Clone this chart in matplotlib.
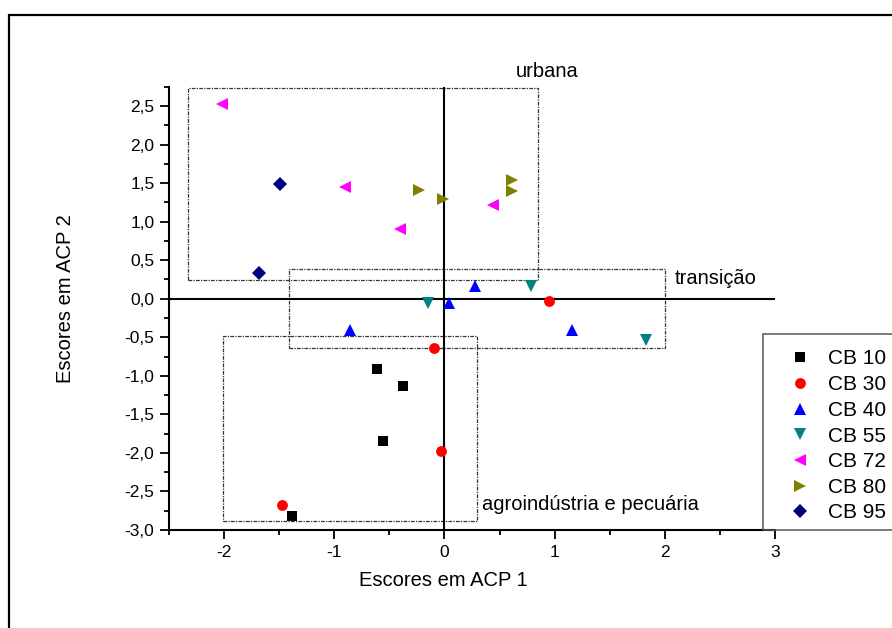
import matplotlib
matplotlib.use("Agg")
import matplotlib.pyplot as plt
from matplotlib.patches import Rectangle
from matplotlib.ticker import MultipleLocator, FuncFormatter

plt.rcParams['font.family'] = ['Liberation Sans', 'DejaVu Sans']

# scores per sample group (ACP 1, ACP 2)
cb10_x = [-0.615, -0.38, -0.56, -1.385]
cb10_y = [-0.91, -1.13, -1.84, -2.815]
cb30_x = [0.947, -0.093, -0.03, -1.475]
cb30_y = [-0.03, -0.64, -1.97, -2.68]
cb40_x = [-0.857, 0.04, 0.28, 1.156]
cb40_y = [-0.40, -0.05, 0.16, -0.41]
cb55_x = [-0.148, 0.787, 1.825]
cb55_y = [-0.056, 0.16, -0.54]
cb72_x = [-2.02, -0.905, -0.40, 0.44]
cb72_y = [2.52, 1.445, 0.905, 1.22]
cb80_x = [-0.233, -0.012, 0.61, 0.61]
cb80_y = [1.41, 1.295, 1.545, 1.40]
cb95_x = [-1.49, -1.686]
cb95_y = [1.49, 0.334]

labels = ['CB 10', 'CB 30', 'CB 40', 'CB 55', 'CB 72', 'CB 80', 'CB 95']
colors = ['#000000', '#ff0000', '#0000ff', '#008080', '#ff00ff', '#808000', '#000080']
markers = ['s', 'o', '^', 'v', '<', '>', 'D']
sizes = [7.2, 7.8, 8.8, 8.8, 8.8, 8.8, 7.0]
xs = [cb10_x, cb30_x, cb40_x, cb55_x, cb72_x, cb80_x, cb95_x]
ys = [cb10_y, cb30_y, cb40_y, cb55_y, cb72_y, cb80_y, cb95_y]

# grouping boxes: (x0, y0, x1, y1) and label
groups = [
    ((-2.325, 0.24, 0.848, 2.73), 'urbana', (0.65, 2.95)),
    ((-1.41, -0.64, 2.0, 0.386), 'transição', (2.09, 0.26)),
    ((-2.01, -2.88, 0.296, -0.48), 'agroindústria e pecuária', (0.344, -2.675)),
]

W, H = 892, 628
fig = plt.figure(figsize=(W / 100, H / 100), dpi=100)
ax = fig.add_axes([169 / W, 1 - 530 / H, (775 - 169) / W, (530 - 86.7) / H])

ax.set_xlim(-2.5, 3)
ax.set_ylim(-3, 2.75)

# axis cross at origin
ax.axhline(0, color='black', lw=1.5, zorder=2)
ax.axvline(0, color='black', lw=1.5, zorder=2)

for (x0, y0, x1, y1), txt, (tx, ty) in groups:
    ax.add_patch(Rectangle((x0, y0), x1 - x0, y1 - y0, fill=False,
                           edgecolor='#333333', lw=0.9, linestyle=(0, (3, 1, 1, 1)),
                           zorder=1))
    ax.text(tx, ty, txt, fontsize=14.5, ha='left', va='center', clip_on=False)

handles = []
for x, y, lab, c, m, s in zip(xs, ys, labels, colors, markers, sizes):
    h, = ax.plot(x, y, linestyle='none', marker=m, color=c, markersize=s,
                 markeredgewidth=0, label=lab, zorder=3)
    handles.append(h)

for side in ['top', 'right']:
    ax.spines[side].set_visible(False)
for side in ['left', 'bottom']:
    ax.spines[side].set_linewidth(1.5)

ax.xaxis.set_major_locator(MultipleLocator(1))
ax.xaxis.set_minor_locator(MultipleLocator(0.5))
ax.yaxis.set_major_locator(MultipleLocator(0.5))
ax.yaxis.set_minor_locator(MultipleLocator(0.25))
ax.xaxis.set_major_formatter(FuncFormatter(lambda v, p: f'{v:.0f}'))
ax.yaxis.set_major_formatter(FuncFormatter(lambda v, p: f'{v:.1f}'.replace('.', ',')))
ax.tick_params(which='major', direction='out', length=6.5, width=1.3, labelsize=12.5, pad=4)
ax.tick_params(which='minor', direction='out', length=3.6, width=1.3)

ax.set_xlabel('Escores em ACP 1', fontsize=14.5)
ax.set_ylabel('Escores em ACP 2', fontsize=14.5)
ax.xaxis.set_label_coords(0.453, -0.092)
ax.yaxis.set_label_coords(-0.155, 0.523)

# legend box runs off the right edge
fig.add_artist(Rectangle((763 / W, 1 - 530 / H), 200 / W, (530 - 334) / H,
                         transform=fig.transFigure, fill=False,
                         edgecolor='#555555', lw=1.1))
fig.legend(handles=handles, loc='upper left', bbox_to_anchor=(790 / W, 1 - 349.5 / H),
           frameon=False, fontsize=15, handlelength=1.0, handletextpad=0.8,
           labelspacing=0.32, borderpad=0, borderaxespad=0, numpoints=1)

# outer frame
fig.add_artist(Rectangle((9 / W, -0.2), 1.3, 1.2 - 15 / H, transform=fig.transFigure,
                         fill=False, edgecolor='black', lw=1.6))

fig.savefig('out.png', dpi=100)
